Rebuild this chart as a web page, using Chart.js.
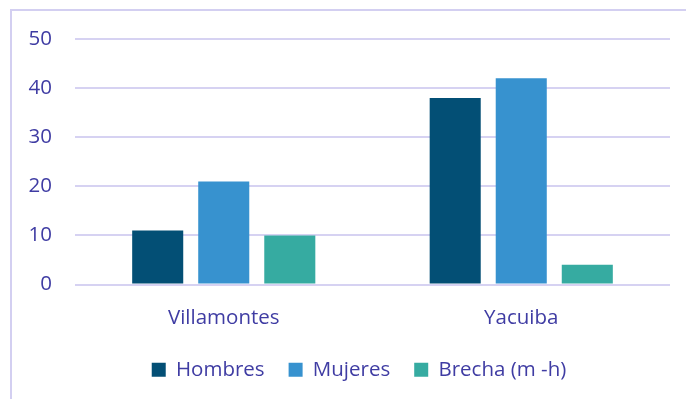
<!DOCTYPE html>
<html>
<head>
<meta charset="utf-8">
<script src="https://cdn.jsdelivr.net/npm/chart.js@4/dist/chart.umd.min.js"></script>
<style>
  html, body { margin: 0; padding: 0; background: #ffffff; }
  #wrap { width: 686px; height: 399px; position: relative; }
</style>
</head>
<body>
<div id="wrap"><canvas id="c" width="686" height="399"></canvas></div>
<script>
const categories = ['Villamontes', 'Yacuiba'];
const hombres = [11, 38];
const mujeres = [21, 42];
const brecha = [10, 4];
const seriesNames = ['Hombres', 'Mujeres', 'Brecha (m -h)'];
const yTicks = [0, 10, 20, 30, 40, 50];

const textColor = '#3f3ca3';
const gridColor = '#d6d2f2';
const fontFamily = '"Open Sans", "DejaVu Sans", sans-serif';
const fontSize = 20.5;

// Thin lavender frame along the left and top edges
const framePlugin = {
  id: 'frame',
  beforeDraw(chart) {
    const ctx = chart.ctx;
    ctx.save();
    ctx.strokeStyle = '#d3cff1';
    ctx.lineWidth = 2;
    ctx.beginPath();
    ctx.moveTo(11, chart.height);
    ctx.lineTo(11, 10);
    ctx.lineTo(chart.width, 10);
    ctx.stroke();
    ctx.restore();
  },
  // center the legend row under the plot rather than the whole canvas
  afterLayout(chart) {
    if (chart.legend) {
      chart.legend.left = 48;
    }
  }
};

new Chart(document.getElementById('c'), {
  type: 'bar',
  data: {
    labels: categories,
    datasets: [
      { label: seriesNames[0], data: hombres, backgroundColor: '#034f75' },
      { label: seriesNames[1], data: mujeres, backgroundColor: '#3792cf' },
      { label: seriesNames[2], data: brecha, backgroundColor: '#36aba1' }
    ]
  },
  options: {
    responsive: false,
    animation: false,
    devicePixelRatio: 1,
    layout: { padding: { left: 0, right: 16, top: 39, bottom: 9 } },
    datasets: {
      bar: { categoryPercentage: 0.666, barPercentage: 0.773, borderWidth: 0 }
    },
    scales: {
      x: {
        afterFit(scale) { scale.height = 51; },
        grid: { display: false, drawTicks: false },
        border: { display: false },
        ticks: { color: textColor, padding: 21, font: { family: fontFamily, size: fontSize } }
      },
      y: {
        min: 0,
        max: 50,
        afterFit(scale) { scale.width = 75; },
        afterBuildTicks(scale) { scale.ticks = yTicks.map(v => ({ value: v })); },
        grid: { color: gridColor, lineWidth: 2, drawTicks: false },
        border: { display: false },
        ticks: { color: textColor, padding: 23, font: { family: fontFamily, size: fontSize } }
      }
    },
    plugins: {
      tooltip: { enabled: false },
      legend: {
        position: 'bottom',
        labels: {
          color: textColor,
          boxWidth: 14,
          boxHeight: 14,
          padding: 24,
          font: { family: fontFamily, size: fontSize }
        }
      }
    }
  },
  plugins: [framePlugin]
});
</script>
</body>
</html>
